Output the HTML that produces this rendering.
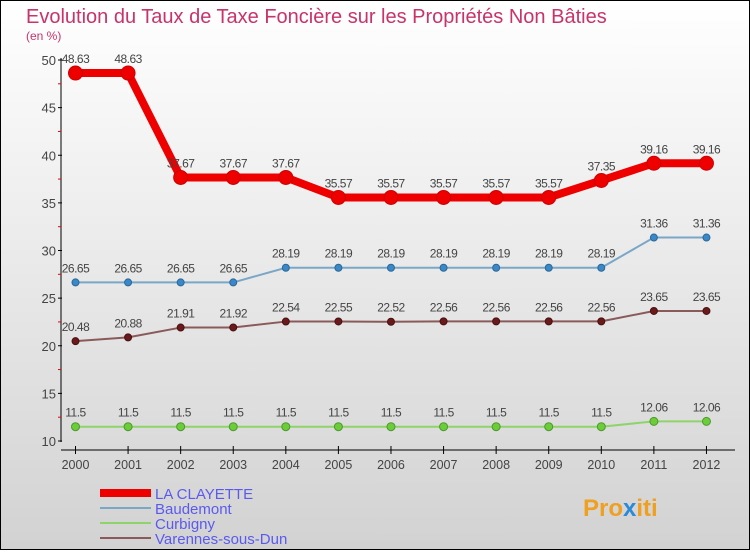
<!DOCTYPE html>
<html><head><meta charset="utf-8"><style>
body{margin:0;width:750px;height:550px;overflow:hidden;font-family:"Liberation Sans",sans-serif}
</style></head><body>
<svg width="750" height="550" xmlns="http://www.w3.org/2000/svg">
<defs><linearGradient id="bg" x1="0" y1="0" x2="0" y2="1"><stop offset="0" stop-color="#ffffff"/><stop offset="1" stop-color="#d2d2d2"/></linearGradient></defs>
<rect x="0.5" y="0.5" width="749" height="549" fill="url(#bg)" stroke="#000"/>
<text x="26" y="23" font-size="20" fill="#c8336a">Evolution du Taux de Taxe Foncière sur les Propriétés Non Bâties</text>
<text x="26" y="40" font-size="12" fill="#c8336a">(en %)</text>
<g id="axes"></g><g id="series"></g>
<g>
<rect x="100" y="489" width="51" height="8" fill="#e00"/>
<text x="155" y="499" font-size="15" fill="#5a5af0">LA CLAYETTE</text>
<line x1="100" y1="508" x2="151" y2="508" stroke="#7aa7c8" stroke-width="2"/>
<text x="155" y="514" font-size="15" fill="#5a5af0">Baudemont</text>
<line x1="100" y1="523" x2="151" y2="523" stroke="#8ed46a" stroke-width="2"/>
<text x="155" y="529" font-size="15" fill="#5a5af0">Curbigny</text>
<line x1="100" y1="538" x2="151" y2="538" stroke="#8a5a5a" stroke-width="2"/>
<text x="155" y="544" font-size="15" fill="#5a5af0">Varennes-sous-Dun</text>
</g>
<text x="583" y="516" font-size="24" font-weight="bold" fill="#f0a020">Pro<tspan fill="#2a8ad8">x</tspan>iti</text>
</svg>
<script>
const years=["2000","2001","2002","2003","2004","2005","2006","2007","2008","2009","2010","2011","2012"];
const clayette=[48.63,48.63,37.67,37.67,37.67,35.57,35.57,35.57,35.57,35.57,37.35,39.16,39.16];
const baudemont=[26.65,26.65,26.65,26.65,28.19,28.19,28.19,28.19,28.19,28.19,28.19,31.36,31.36];
const curbigny=[11.5,11.5,11.5,11.5,11.5,11.5,11.5,11.5,11.5,11.5,11.5,12.06,12.06];
const varennes=[20.48,20.88,21.91,21.92,22.54,22.55,22.52,22.56,22.56,22.56,22.56,23.65,23.65];
const yTicks=[10,15,20,25,30,35,40,45,50];
const NS="http://www.w3.org/2000/svg";
const x=i=>75.5+i*52.58, y=v=>441-(v-10)*9.525;
function mk(p,t,a){const e=document.createElementNS(NS,t);for(const k in a)e.setAttribute(k,a[k]);p.appendChild(e);return e;}
const ax=document.getElementById('axes'), sg=document.getElementById('series');
let l=mk(ax,'line',{x1:61,y1:58,x2:61,y2:442,stroke:'#000'});


yTicks.forEach(v=>{
 mk(ax,'line',{x1:58,x2:62,y1:y(v),y2:y(v),stroke:'#000'});
 if(v<50) mk(ax,'line',{x1:58,x2:61,y1:y(v+2.5),y2:y(v+2.5),stroke:'#e00'});
 const t=mk(ax,'text',{x:56,y:y(v)+5,'text-anchor':'end','font-size':13,fill:'#444'});
 
 
 t.textContent=v;
});
l=mk(ax,'line',{x1:61,y1:450,x2:735,y2:450,stroke:'#000'});


years.forEach((yr,i)=>{
 mk(ax,'line',{x1:x(i),x2:x(i),y1:446,y2:454,stroke:'#000'});
 const t=mk(ax,'text',{x:x(i),y:469,'text-anchor':'middle','font-size':12.5,fill:'#444'});
 
 
 t.textContent=yr;
});
function series(name,data,color,w,r,dot,stroke){
 const g=mk(sg,'g',{});
 
 
 mk(g,'polyline',{points:data.map((v,i)=>x(i)+','+y(v)).join(' '),fill:'none',stroke:color,'stroke-width':w,'stroke-linejoin':'round'});
 data.forEach((v,i)=>{
  const c=mk(g,'circle',{cx:x(i),cy:y(v),r:r,fill:dot,stroke:stroke,'stroke-width':1});
  
  
  const t=mk(g,'text',{x:x(i),y:y(v)-10,'text-anchor':'middle','font-size':12,fill:'#444','letter-spacing':'-0.5'});
  
  
  t.textContent=String(v);
 });
}
series('curbigny-line',curbigny,'#8ed46a',2,4,'#6ccc3a','#4a9a2a');
series('varennes-line',varennes,'#8a5a5a',2,3.5,'#6a1a1a','#4a1010');
series('baudemont-line',baudemont,'#7aa7c8',2,3.5,'#3a88c8','#2a6898');
series('la-clayette-line',clayette,'#ee0000',8,7,'#ee0000','#c00');
</script>
</body></html>
